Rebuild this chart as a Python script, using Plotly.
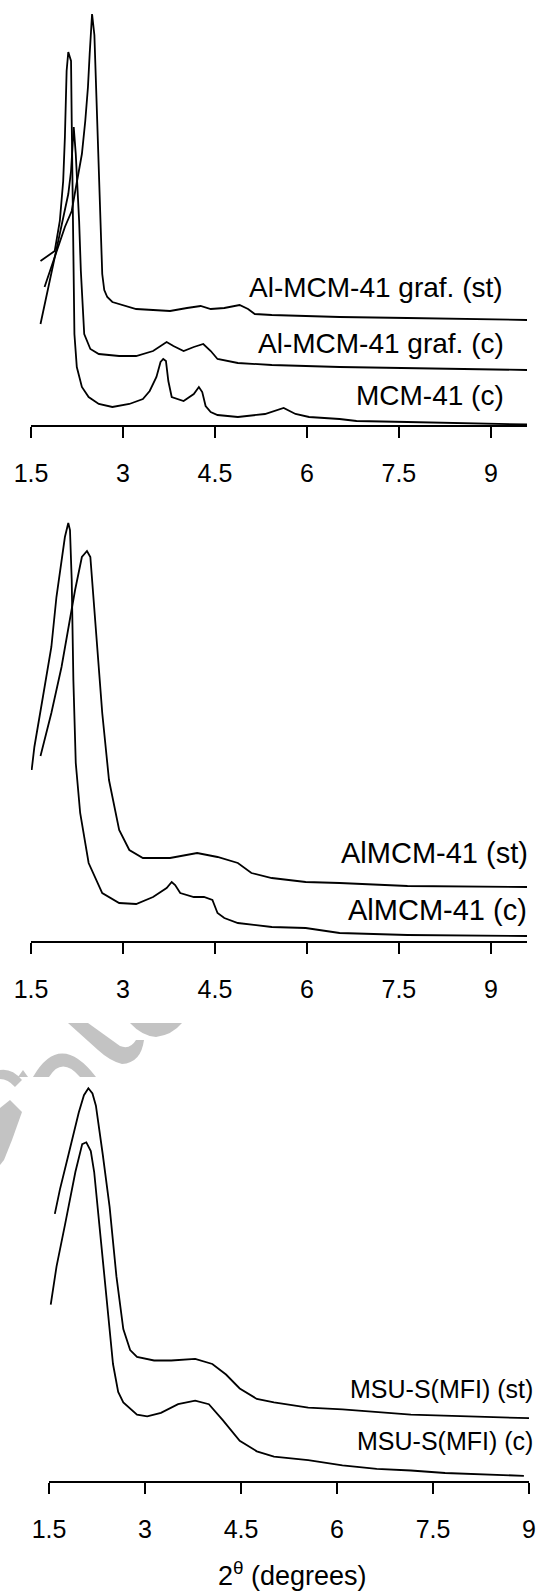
import plotly.graph_objects as go

# ---------------- data (2theta in degrees, intensity in arbitrary units) ----------------
tick_vals = [1.5, 3, 4.5, 6, 7.5, 9]
tick_text = ["1.5", "3", "4.5", "6", "7.5", "9"]

# Panel 1
mcm41_c_x = [1.655, 1.887, 1.970, 2.025, 2.053, 2.070, 2.081, 2.108, 2.153, 2.164, 2.175, 2.191,
             2.208, 2.247, 2.330, 2.440, 2.606, 2.827, 3.104, 3.325, 3.436, 3.546, 3.613, 3.657,
             3.701, 3.740, 3.795, 3.989, 4.155, 4.238, 4.293, 4.348, 4.431, 4.542, 4.874, 5.316,
             5.621, 5.814, 6.035, 6.533, 6.810, 7.640, 8.469, 9.59]
mcm41_c_y = [164, 174, 204, 244, 288, 321, 354, 373, 364, 304, 238, 171,
             91, 58, 38, 28, 21, 18, 21, 26, 34, 48, 63, 66,
             64, 44, 28, 24, 31, 38, 33, 19, 13, 10, 8, 11,
             17, 11, 8, 6, 4, 3, 2, 0.5]

algraf_c_x = [1.655, 1.832, 1.970, 2.108, 2.153, 2.175, 2.197, 2.230, 2.258, 2.285, 2.313, 2.341,
              2.368, 2.468, 2.606, 2.938, 3.215, 3.491, 3.712, 3.823, 3.989, 4.155, 4.310, 4.432,
              4.542, 4.874, 5.427, 6.533, 7.640, 9.59]
algraf_c_y = [101, 151, 191, 231, 254, 280, 298, 271, 238, 204, 154, 121,
              91, 76, 71, 69, 69, 74, 83, 79, 74, 78, 81, 74,
              66, 62, 60, 58, 57, 55]

algraf_st_x = [1.721, 1.915, 2.053, 2.164, 2.247, 2.330, 2.385, 2.429, 2.457, 2.479, 2.496, 2.534,
               2.567, 2.601, 2.639, 2.662, 2.695, 2.744, 2.827, 3.049, 3.215, 3.491, 3.768, 4.044,
               4.266, 4.432, 4.653, 4.902, 5.040, 5.150, 5.427, 5.980, 6.533, 7.640, 9.59]
algraf_st_y = [138, 174, 198, 214, 244, 271, 304, 338, 371, 394, 411, 390,
               330, 258, 190, 151, 135, 128, 123, 119, 116, 115, 114, 117,
               119, 116, 117, 120, 116, 111, 110, 109, 108, 107, 105]

# Panel 2
almcm_c_x = [1.511, 1.555, 1.694, 1.832, 1.915, 1.998, 2.053, 2.108, 2.136, 2.164, 2.191, 2.230,
             2.302, 2.440, 2.662, 2.938, 3.215, 3.491, 3.712, 3.795, 3.851, 3.934, 4.155, 4.321,
             4.459, 4.542, 4.653, 4.874, 5.427, 5.980, 6.533, 7.640, 9.59]
almcm_c_y = [171, 194, 244, 294, 344, 378, 404, 418, 411, 361, 261, 178,
             128, 78, 48, 38, 37, 44, 53, 59, 56, 48, 44, 44,
             41, 28, 23, 18, 14, 13, 8, 6, 5]

almcm_st_x = [1.655, 1.832, 1.998, 2.108, 2.219, 2.330, 2.413, 2.468, 2.496, 2.579, 2.662, 2.772,
              2.938, 3.104, 3.325, 3.768, 4.210, 4.542, 4.874, 5.095, 5.427, 5.980, 6.533, 7.640,
              9.59]
almcm_st_y = [185, 228, 274, 311, 351, 384, 390, 384, 361, 294, 228, 161,
              111, 91, 83, 83, 88, 84, 78, 68, 63, 59, 58, 55,
              54]

# Panel 3
msu_st_x = [1.591, 1.671, 1.805, 1.965, 2.046, 2.115, 2.179, 2.233, 2.340, 2.447, 2.554, 2.661,
            2.768, 2.875, 3.142, 3.410, 3.784, 4.052, 4.266, 4.480, 4.747, 5.015, 5.550, 6.085,
            7.154, 8.224, 9.000]
msu_st_y = [267.1, 291.6, 326.5, 368.4, 385.8, 392.8, 387.6, 375.3, 326.5, 274.1, 204.3, 151.9,
            130.9, 124.0, 120.5, 120.5, 122.2, 117.0, 106.5, 92.5, 82.1, 78.6, 73.3, 71.6,
            66.3, 64.6, 62.8]

msu_c_x = [1.527, 1.618, 1.751, 1.912, 2.019, 2.083, 2.153, 2.206, 2.313, 2.420, 2.500, 2.581,
           2.661, 2.875, 3.035, 3.249, 3.517, 3.784, 3.998, 4.212, 4.480, 4.747, 5.015, 5.550,
           6.085, 6.620, 7.154, 7.689, 8.224, 8.920]
msu_c_y = [176.3, 214.7, 256.6, 309.0, 336.9, 338.7, 330.0, 309.0, 239.2, 169.3, 117.0, 89.0,
           78.6, 66.3, 64.6, 68.1, 76.8, 80.3, 76.8, 61.1, 40.2, 29.7, 24.4, 20.9,
           15.7, 12.2, 10.5, 8.0, 7.0, 5.2]

labels_p1 = ["Al-MCM-41 graf. (st)", "Al-MCM-41 graf. (c)", "MCM-41 (c)"]
labels_p2 = ["AlMCM-41 (st)", "AlMCM-41 (c)"]
labels_p3 = ["MSU-S(MFI) (st)", "MSU-S(MFI) (c)"]
x_title = "2<sup>θ</sup> (degrees)"

# ---------------- layout helpers ----------------
W, H = 538, 1593
FONT = "Liberation Sans, Arial, sans-serif"


def px(x):
    return x / W


def py(y):
    return 1 - y / H


fig = go.Figure()
line = dict(color="black", width=1.8)

traces = [
    (algraf_st_x, algraf_st_y, "x", "y"),
    (algraf_c_x, algraf_c_y, "x", "y"),
    (mcm41_c_x, mcm41_c_y, "x", "y"),
    (almcm_st_x, almcm_st_y, "x2", "y2"),
    (almcm_c_x, almcm_c_y, "x2", "y2"),
    (msu_st_x, msu_st_y, "x3", "y3"),
    (msu_c_x, msu_c_y, "x3", "y3"),
]
for xs, ys, xa, ya in traces:
    fig.add_trace(go.Scatter(x=xs, y=ys, xaxis=xa, yaxis=ya, mode="lines",
                             line=line, showlegend=False, hoverinfo="skip",
                             cliponaxis=False))

xcommon = dict(showline=True, linecolor="black", linewidth=2, ticks="outside",
               ticklen=11, tickwidth=2, tickcolor="black", showgrid=False, zeroline=False,
               tickvals=tick_vals, ticktext=tick_text, ticklabelstandoff=14,
               automargin=False, ticklabeloverflow="allow",
               tickfont=dict(family=FONT, size=25, color="black"), fixedrange=True)
ycommon = dict(visible=False, showgrid=False, zeroline=False, fixedrange=True,
               automargin=False)

fig.update_layout(
    template="none",
    width=W, height=H, margin=dict(l=0, r=0, t=0, b=0, pad=0, autoexpand=False),
    paper_bgcolor="white", plot_bgcolor="rgba(0,0,0,0)",
    font=dict(family=FONT, color="black"),
    xaxis=dict(domain=[px(31), px(527)], range=[1.5, 9.59], anchor="y", **xcommon),
    yaxis=dict(domain=[py(425), py(0)], range=[0, 425], anchor="x", **ycommon),
    xaxis2=dict(domain=[px(31), px(527)], range=[1.5, 9.59], anchor="y2", **xcommon),
    yaxis2=dict(domain=[py(941), py(480)], range=[0, 461], anchor="x2", **ycommon),
    xaxis3=dict(domain=[px(49), px(529)], range=[1.5, 9.0], anchor="y3", **xcommon),
    yaxis3=dict(domain=[py(1481), py(1050)], range=[0, 431], anchor="x3", **ycommon),
)

anns = []
for txt, xr, yc, size in [
    (labels_p1[0], 505, 287, 28), (labels_p1[1], 506, 343, 28), (labels_p1[2], 506, 395, 28),
    (labels_p2[0], 530, 853, 29), (labels_p2[1], 529, 910, 29),
    (labels_p3[0], 535, 1389, 25), (labels_p3[1], 535, 1441, 25),
]:
    anns.append(dict(text=txt, x=px(xr), y=py(yc), xref="paper", yref="paper",
                     xanchor="right", yanchor="middle", showarrow=False,
                     font=dict(family=FONT, size=size, color="black")))
anns.append(dict(text=x_title, x=px(292), y=py(1574), xref="paper", yref="paper",
                 xanchor="center", yanchor="middle", showarrow=False,
                 font=dict(family=FONT, size=27, color="black")))
fig.update_layout(annotations=anns)

# faint grey watermark fragments (visible between panels)
wm_color = "#c3c3c3"
wm_paths = [
    "M 33 1077 Q 60 1030 96 1077 L 80 1077 Q 62 1056 49 1077 Z",
    "M 18 1077 L 23 1070 L 28 1077 Z",
    "M 68 1023 L 88 1023 L 120 1046 Q 130 1050 136 1040 L 144 1040 Q 141 1063 122 1064 Q 110 1061 98 1050 Z",
    "M 130 1023 Q 142 1036 156 1037 Q 172 1035 182 1023 Z",
    "M 0 1070 Q 12 1068 22 1080 L 15 1087 Q 8 1079 0 1079 Z",
    "M 0 1108 L 10 1100 L 22 1112 L 12 1140 L 4 1160 L 0 1165 Z",
]


def to_paper(path):
    out = []
    toks = path.split()
    i = 0
    while i < len(toks):
        t = toks[i]
        if t.isalpha():
            out.append(t)
            i += 1
        else:
            xv = float(toks[i]); yv = float(toks[i + 1])
            out.append(f"{px(xv):.5f},{py(yv):.5f}")
            i += 2
    return " ".join(out)


for p in wm_paths:
    fig.add_shape(type="path", path=to_paper(p), xref="paper", yref="paper",
                  fillcolor=wm_color, line=dict(width=0), layer="below")

fig.write_html("out.html")
